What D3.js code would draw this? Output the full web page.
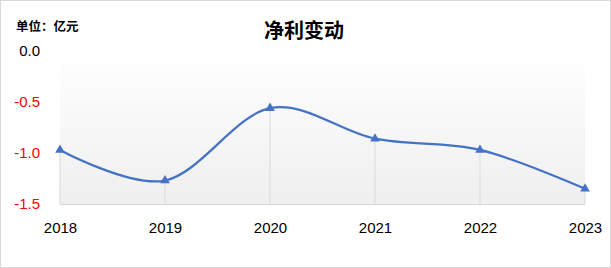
<!DOCTYPE html>
<html>
<head>
<meta charset="utf-8">
<script src="https://cdn.jsdelivr.net/npm/d3@7/dist/d3.min.js"></script>
<style>
  html, body { margin: 0; padding: 0; background: #fff; }
  svg { display: block; }
</style>
</head>
<body>
<script>
// Net profit change, unit: 100 million yuan
const years = ["2018", "2019", "2020", "2021", "2022", "2023"];
const netProfit = [-0.97, -1.27, -0.56, -0.86, -0.97, -1.35];
const yTicks = [0.0, -0.5, -1.0, -1.5];

const W = 611, H = 268;
const plotLeft = 60, plotRight = 585, plotTop = 51, plotBottom = 204;

const svg = d3.select("body").append("svg")
  .attr("width", W).attr("height", H);

// outer frame
svg.append("rect")
  .attr("x", 0.5).attr("y", 0.5)
  .attr("width", W - 1).attr("height", H - 1)
  .attr("fill", "#fff").attr("stroke", "#d9d9d9");

const defs = svg.append("defs");
const grad = defs.append("linearGradient")
  .attr("id", "plotBg").attr("x1", 0).attr("y1", 0).attr("x2", 0).attr("y2", 1);
grad.append("stop").attr("offset", "0%").attr("stop-color", "#ffffff");
grad.append("stop").attr("offset", "100%").attr("stop-color", "#efefef");

const x = d3.scalePoint().domain(years).range([plotLeft, plotRight]);
const y = d3.scaleLinear().domain([-1.5, 0]).range([plotBottom, plotTop]);

// plot background
svg.append("rect")
  .attr("x", plotLeft).attr("y", plotTop)
  .attr("width", plotRight - plotLeft).attr("height", plotBottom - plotTop)
  .attr("fill", "url(#plotBg)");

// title
svg.append("text")
  .attr("x", 304).attr("y", 38)
  .attr("text-anchor", "middle")
  .attr("font-family", "'Noto Sans CJK SC', sans-serif")
  .attr("font-weight", "bold")
  .attr("font-size", 20)
  .attr("fill", "#000")
  .text("净利变动");

// unit label
svg.append("text")
  .attr("x", 16).attr("y", 31)
  .attr("font-family", "'Noto Sans CJK SC', sans-serif")
  .attr("font-weight", "bold")
  .attr("font-size", 12.5)
  .attr("fill", "#000")
  .text("单位：亿元");

// drop lines from each point to the axis
const data = years.map((yr, i) => ({ year: yr, value: netProfit[i] }));
svg.append("g").selectAll("line").data(data).join("line")
  .attr("x1", d => x(d.year)).attr("x2", d => x(d.year))
  .attr("y1", d => y(d.value)).attr("y2", plotBottom)
  .attr("stroke", "#d9d9d9").attr("stroke-width", 1);

// bottom axis
const xAxis = svg.append("g")
  .attr("transform", `translate(0,${plotBottom})`)
  .call(d3.axisBottom(x).tickSize(0).tickPadding(18));
xAxis.select(".domain").attr("stroke", "#d9d9d9").attr("d", `M${plotLeft},0.5H${plotRight}`);
xAxis.selectAll("text")
  .attr("font-family", "'Liberation Sans', Arial, sans-serif")
  .attr("font-size", 15)
  .attr("fill", "#000");

// left axis labels
const yAxis = svg.append("g")
  .attr("transform", `translate(40,0)`)
  .call(d3.axisLeft(y).tickValues(yTicks).tickSize(0).tickPadding(0).tickFormat(d3.format(".1f")));
yAxis.select(".domain").remove();
yAxis.selectAll("text")
  .attr("font-family", "'Liberation Sans', Arial, sans-serif")
  .attr("font-size", 15)
  .attr("fill", d => d < 0 ? "#ff0000" : "#000")
  .text(d => d3.format(".1f")(d).replace("−", "-"));

// smoothed line
const line = d3.line()
  .x(d => x(d.year)).y(d => y(d.value))
  .curve(d3.curveCatmullRom.alpha(0));
svg.append("path")
  .datum(data)
  .attr("d", line)
  .attr("fill", "none")
  .attr("stroke", "#4472c4")
  .attr("stroke-width", 2.25);

// triangle markers
const tri = d3.symbol().type(d3.symbolTriangle).size(40);
svg.append("g").selectAll("path").data(data).join("path")
  .attr("d", tri)
  .attr("transform", d => `translate(${x(d.year)},${y(d.value)})`)
  .attr("fill", "#4472c4");
</script>
</body>
</html>
